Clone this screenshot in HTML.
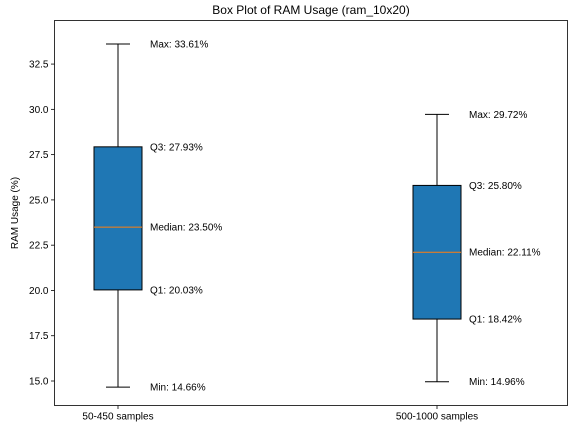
<!DOCTYPE html>
<html><head><meta charset="utf-8"><style>
body{margin:0;background:#fff;}
svg{display:block;font-family:"Liberation Sans",sans-serif;}
</style></head><body>
<svg id="chart" width="576" height="432"></svg>
<script>
const categories=["50-450 samples","500-1000 samples"];
const mins=[14.66,14.96];
const q1s=[20.03,18.42];
const medians=[23.50,22.11];
const q3s=[27.93,25.80];
const maxs=[33.61,29.72];
const yTicks=[15.0,17.5,20.0,22.5,25.0,27.5,30.0,32.5];

const NS="http://www.w3.org/2000/svg";
const svg=document.getElementById('chart');
const L=54.5,R=567.5,T=20.5,B=405.5;
const y=v=>381-(v-15)*18.11;
const xs=[118,437];
function el(tag,attrs,parent){const e=document.createElementNS(NS,tag);for(const k in attrs)e.setAttribute(k,attrs[k]);(parent||svg).appendChild(e);return e;}
function txt(s,attrs){const t=el('text',attrs);t.textContent=s;return t;}

const title=txt("Box Plot of RAM Usage (ram_10x20)",{x:(L+R)/2,y:14,'text-anchor':'middle','font-size':12,fill:'#000'});


const yl=txt("RAM Usage (%)",{x:0,y:0,transform:`translate(18,${(T+B)/2}) rotate(-90)`,'text-anchor':'middle','font-size':10,fill:'#000'});



yTicks.forEach(v=>{
  const g=el('g',{});
  
  
  el('line',{x1:L-3.5,x2:L,y1:y(v),y2:y(v),stroke:'#000','stroke-width':0.8},g);
  const t=el('text',{x:L-6,y:y(v)+3.5,'text-anchor':'end','font-size':10,fill:'#000'},g);
  t.textContent=v.toFixed(1);
});

categories.forEach((c,i)=>{
  const x=xs[i];
  const g=el('g',{});
  
  
  el('line',{x1:x,x2:x,y1:y(maxs[i]),y2:y(q3s[i]),stroke:'#000','stroke-width':1},g);
  el('line',{x1:x,x2:x,y1:y(q1s[i]),y2:y(mins[i]),stroke:'#000','stroke-width':1},g);
  el('line',{x1:x-12,x2:x+12,y1:y(maxs[i]),y2:y(maxs[i]),stroke:'#000','stroke-width':1},g);
  el('line',{x1:x-12,x2:x+12,y1:y(mins[i]),y2:y(mins[i]),stroke:'#000','stroke-width':1},g);
  el('rect',{x:x-24,y:y(q3s[i]),width:48,height:y(q1s[i])-y(q3s[i]),fill:'#1f77b4',stroke:'#000','stroke-width':1},g);
  el('line',{x1:x-24,x2:x+24,y1:y(medians[i]),y2:y(medians[i]),stroke:'#ff7f0e','stroke-width':1},g);
  const labs=[["Max",maxs[i]],["Q3",q3s[i]],["Median",medians[i]],["Q1",q1s[i]],["Min",mins[i]]];
  labs.forEach(([n,v])=>{
    const t=el('text',{x:x+32,y:y(v)+3.5,'font-size':10,fill:'#000'},g);
    t.textContent=`${n}: ${v.toFixed(2)}%`;
  });
  el('line',{x1:x,x2:x,y1:B,y2:B+3.5,stroke:'#000','stroke-width':0.8},g);
  const xl=el('text',{x:x,y:B+14,'text-anchor':'middle','font-size':10,fill:'#000'},g);
  xl.textContent=c;
});

const frame=el('rect',{x:L,y:T,width:R-L,height:B-T,fill:'none',stroke:'#000','stroke-width':0.8});


</script>
</body></html>
